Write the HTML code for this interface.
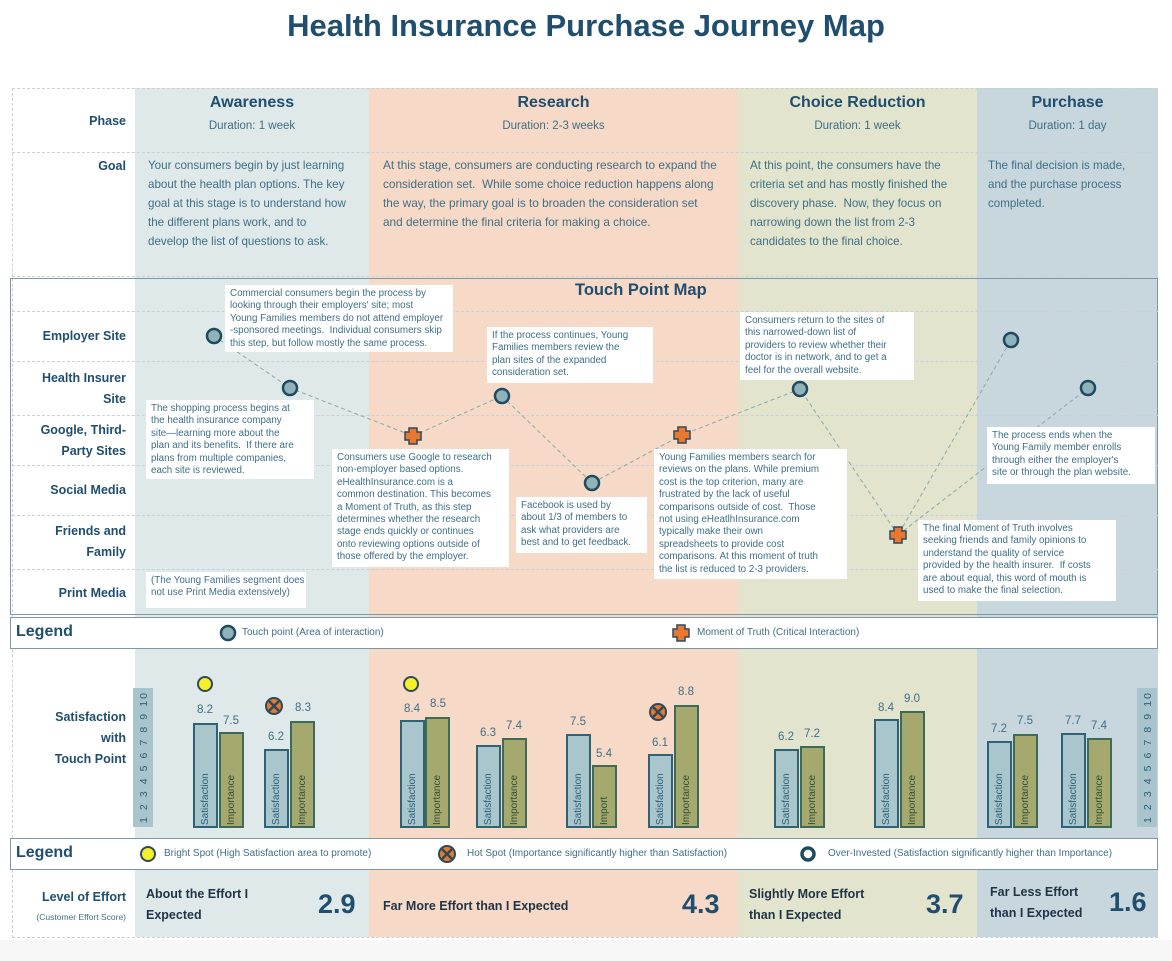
<!DOCTYPE html>
<html><head><meta charset="utf-8">
<style>
*{margin:0;padding:0;box-sizing:border-box}
body{width:1172px;height:961px;background:#fff;position:relative;overflow:hidden;font-family:"Liberation Sans",Arial,sans-serif;color:#3f6f86}
.a{position:absolute}
.bg{position:absolute}
.h{color:#1f4e6e;font-weight:bold}
.lab{position:absolute;left:12px;width:114px;text-align:right;color:#1f4e6e;font-weight:bold;font-size:12.5px;line-height:21px}
.goal{position:absolute;font-size:11.6px;line-height:19px;color:#3f6f86;white-space:nowrap}
.cb{position:absolute;background:#fff;font-size:9.8px;line-height:12.4px;color:#3f6f86;padding:3px 5px;white-space:nowrap;overflow:hidden}
.hl{position:absolute;left:12px;width:1146px;border-top:1px dashed #c8d2d6}
.bar{position:absolute;border:2px solid #2e6276;width:25px}
.s{background:#a8c6cc}
.i{background:#a5a96e;border-color:#3e6a5a}
.v{position:absolute;font-size:11.5px;color:#3f6f86;width:30px;text-align:center}
.ax{position:absolute;width:20px;top:688px;height:139px;background:#a9c4cc}
.leg{position:absolute;left:10px;width:1148px;background:#fff;border:1px solid #7c97a6}
.lt{position:absolute;font-size:10px;color:#3f6f86}
.ef{position:absolute;font-size:12.5px;font-weight:bold;color:#1f3447;line-height:21px}
.en{position:absolute;font-size:27px;font-weight:bold;color:#1f4e6e}
</style></head><body>
<div class="a h" style="left:0;width:1172px;top:8px;text-align:center;font-size:31px">Health Insurance Purchase Journey Map</div>

<div class="bg" style="left:135px;width:234px;top:88px;height:849px;background:#dfe9ea"></div>
<div class="bg" style="left:369px;width:369px;top:88px;height:849px;background:#f6d9c6"></div>
<div class="bg" style="left:738px;width:239px;top:88px;height:849px;background:#e2e4cd"></div>
<div class="bg" style="left:977px;width:181px;top:88px;height:849px;background:#c8d6de"></div>
<div class="a" style="left:12px;top:88px;width:1146px;height:850px;border:1px dashed #c8d2d6"></div>
<div class="hl" style="top:152px"></div>
<div class="hl" style="top:276px"></div>

<div class="a h" style="left:135px;width:234px;top:94px;text-align:center;font-size:16px">Awareness</div>
<div class="a h" style="left:369px;width:369px;top:94px;text-align:center;font-size:16px">Research</div>
<div class="a h" style="left:738px;width:239px;top:94px;text-align:center;font-size:16px">Choice Reduction</div>
<div class="a h" style="left:977px;width:181px;top:94px;text-align:center;font-size:16px">Purchase</div>
<div class="a" style="left:135px;width:234px;top:120px;text-align:center;font-size:11.5px">Duration: 1 week</div>
<div class="a" style="left:369px;width:369px;top:120px;text-align:center;font-size:11.5px">Duration: 2-3 weeks</div>
<div class="a" style="left:738px;width:239px;top:120px;text-align:center;font-size:11.5px">Duration: 1 week</div>
<div class="a" style="left:977px;width:181px;top:120px;text-align:center;font-size:11.5px">Duration: 1 day</div>
<div class="lab" style="top:111px">Phase</div>
<div class="lab" style="top:156px">Goal</div>
<div class="goal" style="left:148px;top:156px">Your consumers begin by just learning<br>about the health plan options. The key<br>goal at this stage is to understand how<br>the different plans work, and to<br>develop the list of questions to ask.</div>
<div class="goal" style="left:383px;top:156px;font-size:11.8px">At this stage, consumers are conducting research to expand the<br>consideration set.&nbsp; While some choice reduction happens along<br>the way, the primary goal is to broaden the consideration set<br>and determine the final criteria for making a choice.</div>
<div class="goal" style="left:750px;top:156px">At this point, the consumers have the<br>criteria set and has mostly finished the<br>discovery phase.&nbsp; Now, they focus on<br>narrowing down the list from 2-3<br>candidates to the final choice.</div>
<div class="goal" style="left:988px;top:156px">The final decision is made,<br>and the purchase process<br>completed.</div>

<!-- touch point map -->
<div class="a" style="left:10px;top:278px;width:1148px;height:337px;border:1.5px solid #7c97a6"></div>
<div class="hl" style="top:311px"></div><div class="hl" style="top:361px"></div><div class="hl" style="top:415px"></div><div class="hl" style="top:465px"></div><div class="hl" style="top:515px"></div><div class="hl" style="top:569px"></div>
<div class="a h" style="left:575px;top:281px;font-size:16.5px">Touch Point Map</div>
<div class="lab" style="top:326px">Employer Site</div>
<div class="lab" style="top:368px">Health Insurer<br>Site</div>
<div class="lab" style="top:420px">Google, Third-<br>Party Sites</div>
<div class="lab" style="top:480px">Social Media</div>
<div class="lab" style="top:521px">Friends and<br>Family</div>
<div class="lab" style="top:583px">Print Media</div>

<svg class="a" style="left:0;top:0" width="1172" height="961">
<g stroke="#8aa9a8" stroke-width="1" stroke-dasharray="4,3" fill="none">
<polyline points="214,336 290,388 413,436 502,396 592,483 682,435 800,389 898,535 1011,340"/>
<line x1="898" y1="535" x2="1088" y2="388"/>
</g>
<g fill="#8fb3b8" stroke="#1f4a60" stroke-width="2.5">
<circle cx="214" cy="336" r="7"/><circle cx="290" cy="388" r="7"/><circle cx="502" cy="396" r="7"/><circle cx="592" cy="483" r="7"/><circle cx="800" cy="389" r="7"/><circle cx="1011" cy="340" r="7"/><circle cx="1088" cy="388" r="7"/>
</g>
<g fill="#e87730" stroke="#2d4a5a" stroke-width="1.5">
<path d="M409,428h8v4h4v8h-4v4h-8v-4h-4v-8h4z"/>
<path d="M678,427h8v4h4v8h-4v4h-8v-4h-4v-8h4z"/>
<path d="M894,527h8v4h4v8h-4v4h-8v-4h-4v-8h4z"/>
</g>
</svg>

<div class="cb" style="left:225px;top:285px;width:228px;height:67px">Commercial consumers begin the process by<br>looking through their employers' site; most<br>Young Families members do not attend employer<br>-sponsored meetings.&nbsp; Individual consumers skip<br>this step, but follow mostly the same process.</div>
<div class="cb" style="left:487px;top:327px;width:166px;height:56px">If the process continues, Young<br>Families members review the<br>plan sites of the expanded<br>consideration set.</div>
<div class="cb" style="left:740px;top:312px;width:174px;height:68px">Consumers return to the sites of<br>this narrowed-down list of<br>providers to review whether their<br>doctor is in network, and to get a<br>feel for the overall website.</div>
<div class="cb" style="left:146px;top:400px;width:168px;height:79px">The shopping process begins at<br>the health insurance company<br>site—learning more about the<br>plan and its benefits.&nbsp; If there are<br>plans from multiple companies,<br>each site is reviewed.</div>
<div class="cb" style="left:332px;top:449px;width:177px;height:118px">Consumers use Google to research<br>non-employer based options.<br>eHealthInsurance.com is a<br>common destination. This becomes<br>a Moment of Truth, as this step<br>determines whether the research<br>stage ends quickly or continues<br>onto reviewing options outside of<br>those offered by the employer.</div>
<div class="cb" style="left:516px;top:497px;width:131px;height:56px">Facebook is used by<br>about 1/3 of members to<br>ask what providers are<br>best and to get feedback.</div>
<div class="cb" style="left:654px;top:449px;width:193px;height:130px">Young Families members search for<br>reviews on the plans. While premium<br>cost is the top criterion, many are<br>frustrated by the lack of useful<br>comparisons outside of cost.&nbsp; Those<br>not using eHeatlhInsurance.com<br>typically make their own<br>spreadsheets to provide cost<br>comparisons. At this moment of truth<br>the list is reduced to 2-3 providers.</div>
<div class="cb" style="left:987px;top:427px;width:168px;height:57px">The process ends when the<br>Young Family member enrolls<br>through either the employer's<br>site or through the plan website.</div>
<div class="cb" style="left:918px;top:520px;width:198px;height:81px">The final Moment of Truth involves<br>seeking friends and family opinions to<br>understand the quality of service<br>provided by the health insurer.&nbsp; If costs<br>are about equal, this word of mouth is<br>used to make the final selection.</div>
<div class="cb" style="left:146px;top:572px;width:160px;height:36px">(The Young Families segment does<br>not use Print Media extensively)</div>

<!-- legend 1 -->
<div class="leg" style="top:617px;height:32px"></div>
<div class="a h" style="left:16px;top:623px;font-size:16px">Legend</div>
<svg class="a" style="left:0;top:0" width="1172" height="961"><circle cx="228" cy="633" r="7" fill="#8fb3b8" stroke="#1f4a60" stroke-width="2.5"/><path d="M677,625h8v4h4v8h-4v4h-8v-4h-4v-8h4z" fill="#e87730" stroke="#2d4a5a" stroke-width="1.5"/></svg>
<div class="lt" style="left:242px;top:627px">Touch point (Area of interaction)</div>
<div class="lt" style="left:697px;top:627px">Moment of Truth (Critical Interaction)</div>

<!-- satisfaction -->
<div class="lab" style="top:707px">Satisfaction<br>with<br>Touch Point</div>
<div class="ax" style="left:133px"></div>
<div class="ax" style="left:1137px"></div>

<div class="bar s" style="left:193px;top:723px;height:105px"></div><div class="bar i" style="left:219px;top:732px;height:96px"></div>
<div class="bar s" style="left:264px;top:749px;height:79px"></div><div class="bar i" style="left:290px;top:721px;height:107px"></div>
<div class="bar s" style="left:400px;top:720px;height:108px"></div><div class="bar i" style="left:425px;top:717px;height:111px"></div>
<div class="bar s" style="left:476px;top:745px;height:83px"></div><div class="bar i" style="left:502px;top:738px;height:90px"></div>
<div class="bar s" style="left:566px;top:734px;height:94px"></div><div class="bar i" style="left:592px;top:765px;height:63px"></div>
<div class="bar s" style="left:648px;top:754px;height:74px"></div><div class="bar i" style="left:674px;top:705px;height:123px"></div>
<div class="bar s" style="left:774px;top:749px;height:79px"></div><div class="bar i" style="left:800px;top:746px;height:82px"></div>
<div class="bar s" style="left:874px;top:719px;height:109px"></div><div class="bar i" style="left:900px;top:711px;height:117px"></div>
<div class="bar s" style="left:987px;top:741px;height:87px"></div><div class="bar i" style="left:1013px;top:734px;height:94px"></div>
<div class="bar s" style="left:1061px;top:733px;height:95px"></div><div class="bar i" style="left:1087px;top:738px;height:90px"></div>

<div class="v" style="left:190px;top:704px">8.2</div><div class="v" style="left:216px;top:715px">7.5</div>
<div class="v" style="left:261px;top:731px">6.2</div><div class="v" style="left:288px;top:702px">8.3</div>
<div class="v" style="left:397px;top:703px">8.4</div><div class="v" style="left:423px;top:698px">8.5</div>
<div class="v" style="left:473px;top:727px">6.3</div><div class="v" style="left:499px;top:720px">7.4</div>
<div class="v" style="left:563px;top:716px">7.5</div><div class="v" style="left:589px;top:748px">5.4</div>
<div class="v" style="left:645px;top:737px">6.1</div><div class="v" style="left:671px;top:686px">8.8</div>
<div class="v" style="left:771px;top:731px">6.2</div><div class="v" style="left:797px;top:728px">7.2</div>
<div class="v" style="left:871px;top:702px">8.4</div><div class="v" style="left:897px;top:693px">9.0</div>
<div class="v" style="left:984px;top:723px">7.2</div><div class="v" style="left:1010px;top:715px">7.5</div>
<div class="v" style="left:1058px;top:715px">7.7</div><div class="v" style="left:1084px;top:720px">7.4</div>

<svg class="a" style="left:0;top:0" width="1172" height="961">
<defs><g id="hs"><circle r="8" fill="#e87730" stroke="#2d4a5a" stroke-width="2"/><path d="M-5,-5L5,5M5,-5L-5,5" stroke="#2d4a5a" stroke-width="2.5"/></g></defs>
<g fill="#f5f02a" stroke="#2d4a5a" stroke-width="2"><circle cx="205" cy="684" r="7"/><circle cx="411" cy="684" r="7"/></g>
<use href="#hs" x="274" y="706"/><use href="#hs" x="658" y="712"/>
<g font-family="Liberation Sans" font-size="10.5" fill="#2d5f75">
<text x="147" y="823" transform="rotate(-90 147 823)" textLength="130" lengthAdjust="spacing">1 2 3 4 5 6 7 8 9 10</text>
<text x="1151" y="823" transform="rotate(-90 1151 823)" textLength="130" lengthAdjust="spacing">1 2 3 4 5 6 7 8 9 10</text>
</g>
<g font-size="10" font-family="Liberation Sans">
<text x="208" y="825" transform="rotate(-90 208 825)" fill="#2d5f75">Satisfaction</text><text x="234" y="825" transform="rotate(-90 234 825)" fill="#2d4f3a">Importance</text>
<text x="279" y="825" transform="rotate(-90 279 825)" fill="#2d5f75">Satisfaction</text><text x="305" y="825" transform="rotate(-90 305 825)" fill="#2d4f3a">Importance</text>
<text x="415" y="825" transform="rotate(-90 415 825)" fill="#2d5f75">Satisfaction</text><text x="440" y="825" transform="rotate(-90 440 825)" fill="#2d4f3a">Importance</text>
<text x="491" y="825" transform="rotate(-90 491 825)" fill="#2d5f75">Satisfaction</text><text x="517" y="825" transform="rotate(-90 517 825)" fill="#2d4f3a">Importance</text>
<text x="581" y="825" transform="rotate(-90 581 825)" fill="#2d5f75">Satisfaction</text><text x="607" y="825" transform="rotate(-90 607 825)" fill="#2d4f3a">Import</text>
<text x="663" y="825" transform="rotate(-90 663 825)" fill="#2d5f75">Satisfaction</text><text x="689" y="825" transform="rotate(-90 689 825)" fill="#2d4f3a">Importance</text>
<text x="789" y="825" transform="rotate(-90 789 825)" fill="#2d5f75">Satisfaction</text><text x="815" y="825" transform="rotate(-90 815 825)" fill="#2d4f3a">Importance</text>
<text x="889" y="825" transform="rotate(-90 889 825)" fill="#2d5f75">Satisfaction</text><text x="915" y="825" transform="rotate(-90 915 825)" fill="#2d4f3a">Importance</text>
<text x="1002" y="825" transform="rotate(-90 1002 825)" fill="#2d5f75">Satisfaction</text><text x="1028" y="825" transform="rotate(-90 1028 825)" fill="#2d4f3a">Importance</text>
<text x="1076" y="825" transform="rotate(-90 1076 825)" fill="#2d5f75">Satisfaction</text><text x="1102" y="825" transform="rotate(-90 1102 825)" fill="#2d4f3a">Importance</text>
</g></svg>

<!-- legend 2 -->
<div class="leg" style="top:838px;height:32px"></div>
<div class="a h" style="left:16px;top:844px;font-size:16px">Legend</div>
<svg class="a" style="left:0;top:0" width="1172" height="961">
<circle cx="148" cy="854" r="7" fill="#f5f02a" stroke="#2d4a5a" stroke-width="2"/>
<circle cx="447" cy="854" r="8" fill="#e87730" stroke="#2d4a5a" stroke-width="2"/><path d="M442,849L452,859M452,849L442,859" stroke="#2d4a5a" stroke-width="2.5"/>
<circle cx="808" cy="854" r="6" fill="#fff" stroke="#1f4a60" stroke-width="3.5"/>
</svg>
<div class="lt" style="left:164px;top:848px">Bright Spot (High Satisfaction area to promote)</div>
<div class="lt" style="left:467px;top:848px">Hot Spot (Importance significantly higher than Satisfaction)</div>
<div class="lt" style="left:828px;top:848px">Over-Invested (Satisfaction significantly higher than Importance)</div>

<!-- effort -->
<div class="a h" style="left:12px;width:114px;text-align:right;top:890px;font-size:12.5px">Level of Effort</div>
<div class="a" style="left:12px;width:114px;text-align:right;top:912px;font-size:8.5px;color:#3f6f86">(Customer Effort Score)</div>
<div class="ef" style="left:146px;top:884px">About the Effort I<br>Expected</div><div class="en" style="left:318px;top:889px">2.9</div>
<div class="ef" style="left:383px;top:896px">Far More Effort than I Expected</div><div class="en" style="left:682px;top:889px">4.3</div>
<div class="ef" style="left:749px;top:884px">Slightly More Effort<br>than I Expected</div><div class="en" style="left:926px;top:889px">3.7</div>
<div class="ef" style="left:990px;top:882px">Far Less Effort<br>than I Expected</div><div class="en" style="left:1109px;top:887px">1.6</div>
<div class="bg" style="left:0;top:940px;width:1172px;height:21px;background:#f7f7f7"></div>
</body></html>
